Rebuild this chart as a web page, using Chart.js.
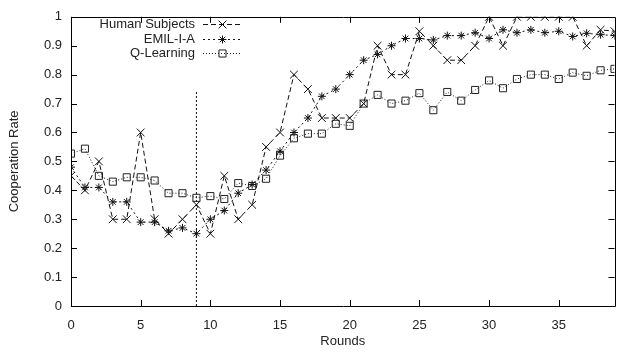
<!DOCTYPE html>
<html lang="en">
<head>
  <meta charset="UTF-8" />
  <title>Cooperation Rate</title>
  <script src="https://cdn.jsdelivr.net/npm/chart.js"></script>
  <style>
    html, body { margin: 0; padding: 0; background: #fff; }
    #wrap { width: 621px; height: 353px; }
  </style>
</head>
<body>
  <div id="wrap"><canvas id="coopChart" width="621" height="353"></canvas></div>

  <script>
    const rounds = [0, 1, 2, 3, 4, 5, 6, 7, 8, 9, 10, 11, 12, 13, 14, 15, 16, 17, 18, 19,
      20, 21, 22, 23, 24, 25, 26, 27, 28, 29, 30, 31, 32, 33, 34, 35, 36, 37, 38, 39];

    const humanSubjects = [0.45, 0.40, 0.50, 0.30, 0.30, 0.60, 0.30, 0.25, 0.30, 0.35,
      0.25, 0.45, 0.30, 0.35, 0.55, 0.60, 0.80, 0.75, 0.65, 0.65,
      0.65, 0.70, 0.90, 0.80, 0.80, 0.95, 0.90, 0.85, 0.85, 0.90,
      1.0, 0.90, 1.0, 1.0, 1.0, 1.0, 1.0, 0.90, 0.955, 0.95];

    const emilIA = [0.48, 0.41, 0.41, 0.36, 0.36, 0.29, 0.29, 0.26, 0.27, 0.25,
      0.30, 0.33, 0.39, 0.42, 0.47, 0.535, 0.60, 0.65, 0.725, 0.75,
      0.80, 0.85, 0.87, 0.90, 0.925, 0.925, 0.92, 0.935, 0.935, 0.945,
      0.925, 0.955, 0.945, 0.955, 0.945, 0.95, 0.932, 0.943, 0.938, 0.935];

    const qLearning = [0.527, 0.544, 0.45, 0.43, 0.445, 0.445, 0.434, 0.39, 0.39, 0.374,
      0.38, 0.37, 0.425, 0.415, 0.44, 0.52, 0.58, 0.596, 0.596, 0.63,
      0.623, 0.70, 0.73, 0.70, 0.71, 0.736, 0.677, 0.74, 0.71, 0.747,
      0.78, 0.753, 0.785, 0.80, 0.80, 0.785, 0.807, 0.796, 0.815, 0.82];

    // vertical marker at round 9
    const markerX = [9, 9];
    const markerY = [0, 0.745];

    const xTicks = [0, 5, 10, 15, 20, 25, 30, 35];
    const yTicks = [0, 0.1, 0.2, 0.3, 0.4, 0.5, 0.6, 0.7, 0.8, 0.9, 1];

    const FONT = "'Liberation Sans', Arial, sans-serif";
    const toXY = (xs, ys) => xs.map((x, i) => ({ x: x, y: ys[i] }));

    const series = [
      { label: "Human Subjects", data: humanSubjects, dash: [5, 3], style: "crossRot", radius: 5.5, color: "#111" },
      { label: "EMIL-I-A", data: emilIA, dash: [2, 3], style: "star", radius: 4, color: "#111" },
      { label: "Q-Learning", data: qLearning, dash: [1, 2], style: "rect", radius: 5, color: "#222" }
    ];

    const datasets = series.map(s => ({
      label: s.label,
      data: toXY(rounds, s.data),
      borderColor: s.color,
      borderWidth: 1,
      borderDash: s.dash,
      pointStyle: s.style,
      pointRadius: s.radius,
      pointBorderWidth: 1,
      pointBorderColor: s.color,
      pointBackgroundColor: "rgba(0,0,0,0)",
      tension: 0,
      fill: false
    }));

    datasets.push({
      label: "split",
      data: toXY(markerX, markerY),
      borderColor: "#111",
      borderWidth: 1,
      borderDash: [2, 2],
      pointRadius: 0,
      fill: false
    });

    // gnuplot-like frame with inward ticks on all four sides
    const framePlugin = {
      id: "frame",
      afterDatasetsDraw(chart) {
        const { ctx, chartArea: a, scales } = chart;
        ctx.save();
        ctx.strokeStyle = "#000";
        ctx.lineWidth = 1;
        ctx.setLineDash([]);
        ctx.beginPath();
        ctx.rect(Math.round(a.left) + 0.5, Math.round(a.top) + 0.5,
          Math.round(a.right - a.left), Math.round(a.bottom - a.top));
        ctx.stroke();
        ctx.beginPath();
        xTicks.forEach(v => {
          const px = Math.round(scales.x.getPixelForValue(v)) + 0.5;
          ctx.moveTo(px, a.bottom); ctx.lineTo(px, a.bottom - 6);
          ctx.moveTo(px, a.top); ctx.lineTo(px, a.top + 6);
        });
        yTicks.forEach(v => {
          const py = Math.round(scales.y.getPixelForValue(v)) + 0.5;
          ctx.moveTo(a.left, py); ctx.lineTo(a.left + 6, py);
          ctx.moveTo(a.right, py); ctx.lineTo(a.right - 6, py);
        });
        ctx.stroke();
        ctx.restore();
      }
    };

    // key in the top-left: text right-aligned, then line sample with marker
    const keyPlugin = {
      id: "key",
      afterDraw(chart) {
        const { ctx } = chart;
        const rows = [24, 39, 53];
        ctx.save();
        ctx.font = "13px " + FONT;
        ctx.textAlign = "right";
        ctx.textBaseline = "middle";
        series.forEach((s, i) => {
          const y = rows[i];
          ctx.fillStyle = "#222";
          ctx.fillText(s.label, 195, y + 0.5);
          ctx.strokeStyle = s.color;
          ctx.lineWidth = 1;
          ctx.setLineDash(s.dash);
          ctx.beginPath();
          ctx.moveTo(203, y + 0.5);
          ctx.lineTo(242, y + 0.5);
          ctx.stroke();
          ctx.setLineDash([]);
          ctx.fillStyle = "rgba(0,0,0,0)";
          Chart.helpers.drawPoint(ctx, {
            pointStyle: s.style, radius: s.radius, borderWidth: 1, rotation: 0
          }, 222.5, y + 0.5);
        });
        ctx.restore();
      }
    };

    new Chart(document.getElementById("coopChart"), {
      type: "line",
      data: { datasets: datasets },
      plugins: [framePlugin, keyPlugin],
      options: {
        responsive: false,
        animation: false,
        layout: { padding: { top: 12, right: 0, left: 0, bottom: 0 } },
        plugins: { legend: { display: false }, tooltip: { enabled: false } },
        scales: {
          x: {
            type: "linear",
            min: 0,
            max: 39,
            afterFit(scale) { scale.height = 47; },
            afterBuildTicks(scale) { scale.ticks = xTicks.map(v => ({ value: v })); },
            grid: { display: false, drawTicks: false },
            border: { display: false },
            ticks: { color: "#222", padding: 12, font: { family: FONT, size: 13 }, maxRotation: 0 },
            title: { display: true, text: "Rounds", color: "#222", padding: { top: 0, bottom: 4 }, font: { family: FONT, size: 13 } }
          },
          y: {
            min: 0,
            max: 1,
            afterFit(scale) { scale.width = 71; },
            afterBuildTicks(scale) { scale.ticks = yTicks.map(v => ({ value: v })); },
            grid: { display: false, drawTicks: false },
            border: { display: false },
            ticks: {
              color: "#222",
              padding: 9,
              font: { family: FONT, size: 13 },
              callback: v => String(Math.round(v * 10) / 10)
            },
            title: { display: true, text: "Cooperation Rate", color: "#222", padding: { top: 7, bottom: 0 }, font: { family: FONT, size: 13 } }
          }
        }
      }
    });
  </script>
</body>
</html>
